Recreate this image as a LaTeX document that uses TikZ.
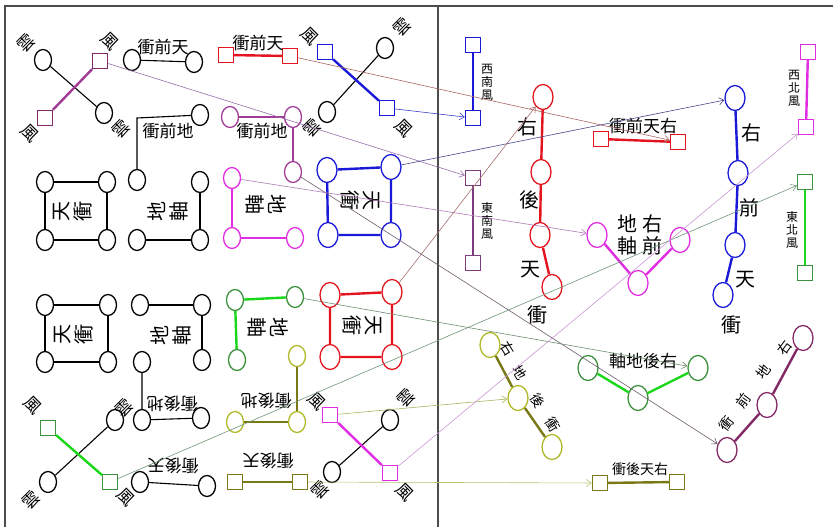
\documentclass[tikz,border=0pt]{standalone}
\usepackage{fontspec}
\newfontfamily\cjk{Noto Sans CJK TC}
\usetikzlibrary{shapes.geometric,arrows.meta}

\definecolor{cred}{RGB}{228,20,30}
\definecolor{cblue}{RGB}{25,25,215}
\definecolor{cmag}{RGB}{225,45,225}
\definecolor{cplum}{RGB}{160,60,150}
\definecolor{cpurp}{RGB}{125,60,125}
\definecolor{cwine}{RGB}{130,40,100}
\definecolor{cgreen}{RGB}{25,215,25}
\definecolor{cdkgreen}{RGB}{60,145,60}
\definecolor{colive}{RGB}{175,185,40}
\definecolor{cdkolive}{RGB}{120,120,20}

\begin{document}
\begin{tikzpicture}[x=1pt,y=-1pt,>={Straight Barb[length=5pt,width=7pt]},
    cir/.style={ellipse, draw, line width=1.3pt, minimum width=17pt,
      minimum height=21pt, inner sep=0pt},
    bigcir/.style={cir, minimum width=20pt, minimum height=25pt},
    sq/.style={rectangle, draw, line width=1.3pt, minimum size=15pt, inner sep=0pt},
    bar/.style={line width=2.4pt},
    blk/.style={line width=1.1pt},
    link/.style={->, line width=0.6pt},
    ch/.style={font=\cjk\fontsize{17}{19}\selectfont, inner sep=0pt},
    tilt/.style={font=\cjk\fontsize{14}{15}\selectfont, inner sep=0pt},
    big/.style={font=\cjk\fontsize{20}{22}\selectfont, inner sep=0pt, align=center},
    small/.style={font=\cjk\fontsize{12}{13}\selectfont, inner sep=0pt, align=center}]

  \useasboundingbox (0,0) rectangle (833,527);
  % frame
  \draw[line width=1.2pt, black!70] (5,527) -- (5,6) -- (833,6);
  \draw[line width=1.2pt, black!70] (438,6) -- (438,527);

  % ---------- left half ----------
  % top left cross
  \node[cir] (a1) at (43,60) {};
  \node[cir] (a2) at (104,113) {};
  \node[sq,draw=cwine] (a3) at (100,61) {};
  \node[sq,draw=cwine] (a4) at (45,118) {};
  \draw[blk] (a1) -- (a2);
  \draw[bar,cplum] (a3) -- (a4);
  \node[ch,rotate=45] (la1) at (26,43) {雲};
  \node[ch,rotate=-45] (la3) at (110,41) {風};
  \node[ch,rotate=-45] (la4) at (30,133) {風};
  \node[ch,rotate=45] (la2) at (121,129) {雲};

  \node[cir] (b1) at (132,60) {};
  \node[cir] (b2) at (194,62) {};
  \draw[blk] (b1) -- (b2);
  \node[ch] (lb) at (163,47) {衝前天};

  \node[cir] (c1) at (200,115) {};
  \node[cir] (c2) at (137,180) {};
  \coordinate (c0) at (137,118);
  \draw[blk] (c1) -- (c0) -- (c2);
  \node[ch] (lc) at (168,131) {衝前地};

  \node[sq,draw=cred] (r1) at (226,55) {};
  \node[sq,draw=cred] (r2) at (290,56) {};
  \draw[bar,cred] (r1) -- (r2);
  \node[ch] (lr) at (258,43) {衝前天};

  \node[cir,draw=cplum] (p1) at (230,117) {};
  \node[cir,draw=cplum] (p2) at (293,117) {};
  \node[cir,draw=cplum] (p3) at (293,172) {};
  \draw[bar,cplum] (p1) -- (p2) -- (p3);
  \node[ch] (lp) at (262,131) {衝前地};

  % blue cross
  \node[sq,draw=cblue] (u1) at (325,52) {};
  \node[sq,draw=cblue] (u2) at (387,108) {};
  \node[cir] (u3) at (385,48) {};
  \node[cir] (u4) at (327,112) {};
  \draw[blk] (u3) -- (u4);
  \draw[bar,cblue] (u1) -- (u2);
  \node[ch,rotate=-45] (lu1) at (310,36) {風};
  \node[ch,rotate=45] (lu3) at (402,27) {雲};
  \node[ch,rotate=45] (lu4) at (312,128) {雲};
  \node[ch,rotate=-45] (lu2) at (404,128) {風};

  % second row
  \node[cir] (d1) at (45,182) {};
  \node[cir] (d2) at (107,182) {};
  \node[cir] (d3) at (45,240) {};
  \node[cir] (d4) at (107,240) {};
  \draw[blk] (d1) -- (d2) -- (d4) -- (d3) -- (d1);
  \node[big,rotate=90] (ld) at (73,211) {天\\衝};

  \node[cir] (e1) at (200,182) {};
  \node[cir] (e2) at (137,240) {};
  \node[cir] (e3) at (200,240) {};
  \draw[blk] (e1) -- (e3) -- (e2);
  \node[big,rotate=90] (le) at (168,211) {地\\軸};

  \node[cir,draw=cmag] (m1) at (232,178) {};
  \node[cir,draw=cmag] (m2) at (232,238) {};
  \node[cir,draw=cmag] (m3) at (295,238) {};
  \draw[bar,cmag] (m1) -- (m2) -- (m3);
  \node[big,rotate=-90] (lm) at (266,204) {地\\軸};

  \node[bigcir,draw=cblue] (f1) at (327,170) {};
  \node[bigcir,draw=cblue] (f2) at (391,167) {};
  \node[bigcir,draw=cblue] (f3) at (328,235) {};
  \node[bigcir,draw=cblue] (f4) at (391,235) {};
  \draw[bar,cblue] (f1) -- (f2) -- (f4) -- (f3) -- (f1);
  \node[big,rotate=-90] (lf) at (360,200) {天\\衝};

  % third row
  \node[cir] (g1) at (45,305) {};
  \node[cir] (g2) at (108,305) {};
  \node[cir] (g3) at (45,362) {};
  \node[cir] (g4) at (108,362) {};
  \draw[blk] (g1) -- (g2) -- (g4) -- (g3) -- (g1);
  \node[big,rotate=90] (lg) at (74,334) {天\\衝};

  \node[cir] (h1) at (140,305) {};
  \node[cir] (h2) at (202,305) {};
  \node[cir] (h3) at (202,360) {};
  \draw[blk] (h1) -- (h2) -- (h3);
  \node[big,rotate=90] (lh) at (171,335) {地\\軸};

  \node[cir,draw=cdkgreen] (k1) at (235,300) {};
  \node[cir,draw=cdkgreen] (k2) at (295,297) {};
  \node[cir,draw=cdkgreen] (k3) at (237,360) {};
  \draw[bar,cgreen] (k2) -- (k1) -- (k3);
  \node[big,rotate=-90] (lk) at (268,327) {地\\軸};

  \node[bigcir,draw=cred] (q1) at (330,295) {};
  \node[bigcir,draw=cred] (q2) at (392,292) {};
  \node[bigcir,draw=cred] (q3) at (330,357) {};
  \node[bigcir,draw=cred] (q4) at (392,357) {};
  \draw[bar,cred] (q1) -- (q2) -- (q4) -- (q3) -- (q1);
  \node[big,rotate=-90] (lq) at (362,325) {天\\衝};

  % fourth row
  \node[cir] (n1) at (142,362) {};
  \node[cir] (n2) at (142,420) {};
  \node[cir] (n3) at (201,418) {};
  \draw[blk] (n1) -- (n2) -- (n3);
  \node[ch,rotate=180] (ln) at (172,404) {衝後地};

  \node[cir,draw=colive] (o1) at (297,356) {};
  \node[cir,draw=colive] (o2) at (235,422) {};
  \node[cir,draw=colive] (o3) at (297,422) {};
  \draw[bar,cdkolive] (o1) -- (o3) -- (o2);
  \node[ch,rotate=180] (lo) at (266,401) {衝後地};

  % green cross
  \node[sq,draw=cdkgreen] (gx1) at (48,428) {};
  \node[sq,draw=cdkgreen] (gx2) at (110,482) {};
  \node[cir] (gx3) at (115,420) {};
  \node[cir] (gx4) at (48,482) {};
  \draw[blk] (gx3) -- (gx4);
  \draw[bar,cgreen] (gx1) -- (gx2);
  \node[ch,rotate=-45] (lgx1) at (33,405) {風};
  \node[ch,rotate=45] (lgx3) at (124,408) {雲};
  \node[ch,rotate=45] (lgx4) at (31,500) {雲};
  \node[ch,rotate=-45] (lgx2) at (126,497) {風};

  % magenta cross
  \node[sq,draw=cmag] (mx1) at (330,415) {};
  \node[sq,draw=cmag] (mx2) at (390,473) {};
  \node[cir] (mx3) at (390,420) {};
  \node[cir] (mx4) at (332,472) {};
  \draw[blk] (mx3) -- (mx4);
  \draw[bar,cmag] (mx1) -- (mx2);
  \node[ch,rotate=-45] (lmx1) at (317,401) {風};
  \node[ch,rotate=45] (lmx3) at (406,398) {雲};
  \node[ch,rotate=45] (lmx4) at (320,490) {雲};
  \node[ch,rotate=-45] (lmx2) at (405,492) {風};

  % fifth row
  \node[cir] (s1) at (140,482) {};
  \node[cir] (s2) at (207,486) {};
  \draw[blk] (s1) -- (s2);
  \node[ch,rotate=180] (ls) at (173,466) {衝後天};

  \node[sq,draw=cdkolive] (t1) at (235,482) {};
  \node[sq,draw=cdkolive] (t2) at (300,482) {};
  \draw[bar,cdkolive] (t1) -- (t2);
  \node[ch,rotate=180] (lt) at (268,461) {衝後天};

  % ---------- right half ----------
  \node[sq,draw=cblue] (w1) at (473,45) {};
  \node[sq,draw=cblue] (w2) at (473,118) {};
  \draw[bar,cblue] (w1) -- (w2);
  \node[small] (lw) at (487,82) {西\\南\\風};

  \node[sq,draw=cpurp] (v1) at (473,178) {};
  \node[sq,draw=cpurp] (v2) at (473,263) {};
  \draw[bar,cpurp] (v1) -- (v2);
  \node[small] (lv) at (487,221) {東\\南\\風};

  \node[bigcir,draw=cred] (rc1) at (543,97) {};
  \node[bigcir,draw=cred] (rc2) at (541,172) {};
  \node[bigcir,draw=cred] (rc3) at (540,235) {};
  \node[bigcir,draw=cred] (rc4) at (552,287) {};
  \draw[bar,cred] (rc1) -- (rc2) -- (rc3) -- (rc4);
  \node[big] (lrc1) at (527,127) {右};
  \node[big] (lrc2) at (529,200) {後};
  \node[big] (lrc3) at (530,270) {天};
  \node[big] (lrc4) at (537,315) {衝};

  \node[sq,draw=cred] (x1) at (601,139) {};
  \node[sq,draw=cred] (x2) at (678,142) {};
  \draw[bar,cred] (x1) -- (x2);
  \node[ch] (lx) at (643,126) {衝前天右};

  \node[bigcir,draw=cmag] (y1) at (597,235) {};
  \node[bigcir,draw=cmag] (y2) at (638,283) {};
  \node[bigcir,draw=cmag] (y3) at (680,240) {};
  \draw[bar,cmag] (y1) -- (y2) -- (y3);
  \node[big] (ly1) at (627,235) {地\\軸};
  \node[big] (ly2) at (652,235) {右\\前};

  \node[bigcir,draw=cblue] (bc1) at (735,98) {};
  \node[bigcir,draw=cblue] (bc2) at (738,173) {};
  \node[bigcir,draw=cblue] (bc3) at (735,245) {};
  \node[bigcir,draw=cblue] (bc4) at (723,295) {};
  \draw[bar,cblue] (bc1) -- (bc2) -- (bc3) -- (bc4);
  \node[big] (lbc1) at (751,133) {右};
  \node[big] (lbc2) at (749,208) {前};
  \node[big] (lbc3) at (745,280) {天};
  \node[big] (lbc4) at (731,325) {衝};

  \node[sq,draw=cmag] (z1) at (808,52) {};
  \node[sq,draw=cmag] (z2) at (806,127) {};
  \draw[bar,cmag] (z1) -- (z2);
  \node[small] (lz) at (794,88) {西\\北\\風};

  \node[sq,draw=cdkgreen] (aa1) at (805,182) {};
  \node[sq,draw=cdkgreen] (aa2) at (805,273) {};
  \draw[bar,cgreen] (aa1) -- (aa2);
  \node[small] (laa) at (792,230) {東\\北\\風};

  \node[bigcir,draw=colive] (oc1) at (490,345) {};
  \node[bigcir,draw=colive] (oc2) at (518,398) {};
  \node[bigcir,draw=colive] (oc3) at (552,447) {};
  \draw[bar,cdkolive] (oc1) -- (oc2) -- (oc3);
  \node[tilt,rotate=-58] (loc1) at (508,349) {右};
  \node[tilt,rotate=-58] (loc2) at (520,373) {地};
  \node[tilt,rotate=-58] (loc3) at (538,401) {後};
  \node[tilt,rotate=-58] (loc4) at (553,425) {衝};

  \node[bigcir,draw=cdkgreen] (gc1) at (588,368) {};
  \node[bigcir,draw=cdkgreen] (gc2) at (638,398) {};
  \node[bigcir,draw=cdkgreen] (gc3) at (698,368) {};
  \draw[bar,cgreen] (gc1) -- (gc2) -- (gc3);
  \node[ch] (lgc) at (643,361) {軸地後右};

  \node[sq,draw=cdkolive] (xx1) at (600,483) {};
  \node[sq,draw=cdkolive] (xx2) at (677,482) {};
  \draw[bar,cdkolive] (xx1) -- (xx2);
  \node[ch,font=\cjk\fontsize{14}{15}\selectfont] (lxx) at (640,469) {衝後天右};

  \node[bigcir,draw=cwine] (pc1) at (727,450) {};
  \node[bigcir,draw=cwine] (pc2) at (767,405) {};
  \node[bigcir,draw=cwine] (pc3) at (803,338) {};
  \draw[bar,cwine] (pc1) -- (pc2) -- (pc3);
  \node[tilt,rotate=53] (lpc1) at (726,424) {衝};
  \node[tilt,rotate=53] (lpc2) at (743,401) {前};
  \node[tilt,rotate=53] (lpc3) at (763,372) {地};
  \node[tilt,rotate=53] (lpc4) at (784,348) {右};

  % ---------- thin links ----------
  \draw[link,color={rgb,255:red,150;green,110;blue,170}] (a3) -- (v1);
  \draw[link,color={rgb,255:red,170;green,100;blue,100}] (r2) -- (x2);
  \draw[link,color={rgb,255:red,60;green,60;blue,200}] (u2) -- (w2);
  \draw[link,color={rgb,255:red,70;green,70;blue,140}] (f2) -- (bc1);
  \draw[link,color={rgb,255:red,110;green,90;blue,110}] (p3) -- (pc1);
  \draw[link,color={rgb,255:red,175;green,120;blue,185}] (m1) -- (y1);
  \draw[link,color={rgb,255:red,170;green,110;blue,110}] (q2) -- (rc1);
  \draw[link,color={rgb,255:red,110;green,140;blue,110}] (k2) -- (gc3);
  \draw[link,color={rgb,255:red,110;green,150;blue,120}] (gx2) -- (aa1);
  \draw[link,color={rgb,255:red,170;green,180;blue,90}] (mx1) -- (oc2);
  \draw[link,color={rgb,255:red,200;green,150;blue,210}] (mx2) -- (z2);
  \draw[link,color={rgb,255:red,185;green,195;blue,115}] (t2) -- (xx1);
\end{tikzpicture}
\end{document}
